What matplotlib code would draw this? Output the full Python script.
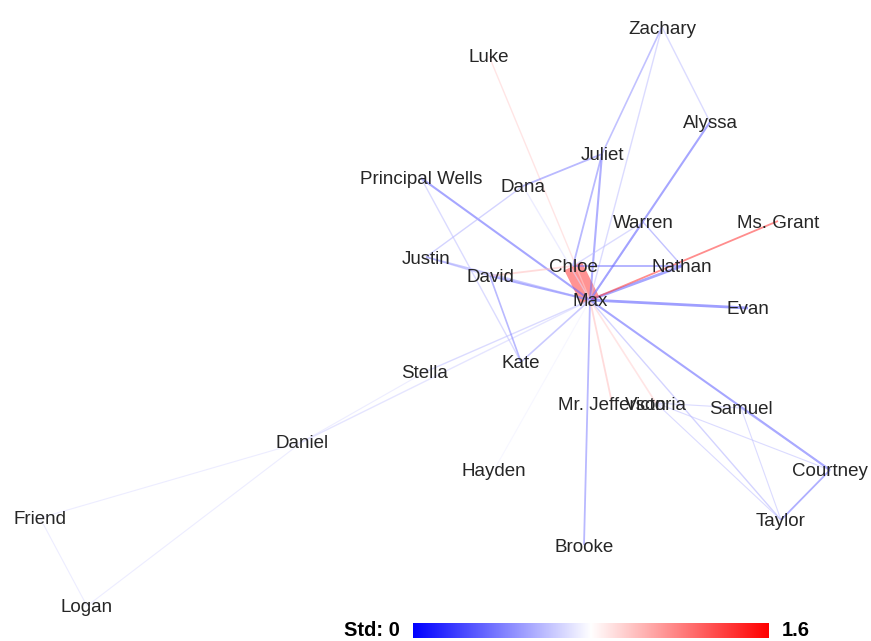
import numpy as np
import matplotlib.pyplot as plt
from matplotlib import cm, colors
plt.rcParams['font.family'] = ['Liberation Sans', 'DejaVu Sans']

# node layout (pixel-like coordinates of the layout)
names = ['Max', 'Chloe', 'Nathan', 'Evan', 'Ms. Grant', 'Warren', 'Alyssa', 'Zachary',
         'Juliet', 'Dana', 'Luke', 'Principal Wells', 'Justin', 'David', 'Kate', 'Stella',
         'Daniel', 'Friend', 'Logan', 'Hayden', 'Brooke', 'Mr. Jefferson', 'Victoria',
         'Samuel', 'Courtney', 'Taylor']
node_x = [590, 573, 682, 748, 778, 643, 710, 662, 602, 523, 489, 421, 426, 490, 521, 425,
          302, 40, 87, 494, 584, 612, 656, 741, 830, 781]
node_y = [300, 266, 266, 308, 221, 222, 122, 27, 154, 186, 56, 178, 257, 276, 362, 372,
          442, 518, 606, 470, 545, 403, 403, 408, 470, 520]

# edges: source, target, std, weight
src = ['Max', 'Max', 'Max', 'Max', 'Max', 'Max', 'Max', 'Max', 'Max', 'Max', 'Max',
       'Max', 'Max', 'Max', 'Max', 'Max', 'Max', 'Max', 'Max', 'Max', 'Max', 'Max',
       'Chloe', 'Chloe', 'Chloe', 'Chloe', 'Juliet', 'Dana', 'Juliet', 'Zachary',
       'Warren', 'Principal Wells', 'David', 'Justin', 'Stella', 'Daniel', 'Daniel',
       'Friend', 'Victoria', 'Victoria', 'Victoria', 'Samuel', 'Samuel', 'Courtney']
dst = ['Chloe', 'Nathan', 'Ms. Grant', 'Evan', 'Alyssa', 'Juliet', 'Zachary',
       'Principal Wells', 'David', 'Justin', 'Kate', 'Stella', 'Daniel', 'Brooke',
       'Mr. Jefferson', 'Victoria', 'Courtney', 'Taylor', 'Hayden', 'Luke', 'Warren', 'Dana',
       'Nathan', 'David', 'Juliet', 'Warren', 'Dana', 'Justin', 'Zachary', 'Alyssa',
       'Nathan', 'Kate', 'Kate', 'David', 'Daniel', 'Friend', 'Logan',
       'Logan', 'Samuel', 'Courtney', 'Taylor', 'Taylor', 'Courtney', 'Taylor']
std = [1.2, 0.3, 1.45, 0.25, 0.3, 0.35, 0.6, 0.3, 0.35, 0.5, 0.5, 0.6, 0.65, 0.4,
       1.0, 0.95, 0.3, 0.55, 0.75, 0.95, 0.5, 0.7,
       0.35, 1.0, 0.4, 0.6, 0.4, 0.55, 0.45, 0.6,
       0.45, 0.6, 0.4, 0.5, 0.7, 0.7, 0.7,
       0.7, 0.6, 0.6, 0.6, 0.6, 0.55, 0.35]
weight = [14, 2.0, 1.3, 2.0, 1.5, 1.5, 1.0, 1.5, 1.5, 1.2, 1.2, 1.0, 1.0, 1.3,
          1.3, 1.2, 1.5, 1.0, 0.8, 1.0, 1.0, 1.0,
          1.3, 1.3, 1.3, 1.0, 1.3, 1.0, 1.2, 1.0,
          1.0, 1.0, 1.2, 1.0, 0.8, 0.8, 0.8,
          0.8, 0.8, 0.8, 0.8, 0.8, 1.0, 1.3]
std_max = 1.6

pos = {n: (x, y) for n, x, y in zip(names, node_x, node_y)}
norm = colors.Normalize(0, std_max)
cmap = cm.bwr

fig = plt.figure(figsize=(8.71, 6.41), dpi=100)
ax = fig.add_axes([0, 0, 1, 1])
ax.set_xlim(0, 871)
ax.set_ylim(641, 0)
ax.axis('off')

for s, t, sd, w in zip(src, dst, std, weight):
    (x0, y0), (x1, y1) = pos[s], pos[t]
    a = 0.85 if w > 5 else 0.55
    ax.plot([x0, x1], [y0, y1], color=cmap(norm(sd)), lw=w, alpha=a,
            solid_capstyle='butt', zorder=1)

for n in names:
    x, y = pos[n]
    ax.text(x, y + 2, n, ha='center', va='center', fontsize=13.5, color='#262626', zorder=3)

# colour scale
cax = fig.add_axes([413/871, 3/641, 355/871, 15/641])
grad = np.linspace(0, 1, 256)[None, :]
cax.imshow(grad, aspect='auto', cmap=cmap, extent=[0, std_max, 0, 1])
cax.set_xticks([])
cax.set_yticks([])
for sp in cax.spines.values():
    sp.set_visible(False)
fig.text(400/871, 1 - 631/641, 'Std: 0', ha='right', va='center', fontsize=14.5,
         fontweight='bold', color='black')
fig.text(782/871, 1 - 631/641, '1.6', ha='left', va='center', fontsize=14.5,
         fontweight='bold', color='black')

fig.savefig('out.png', dpi=100)
